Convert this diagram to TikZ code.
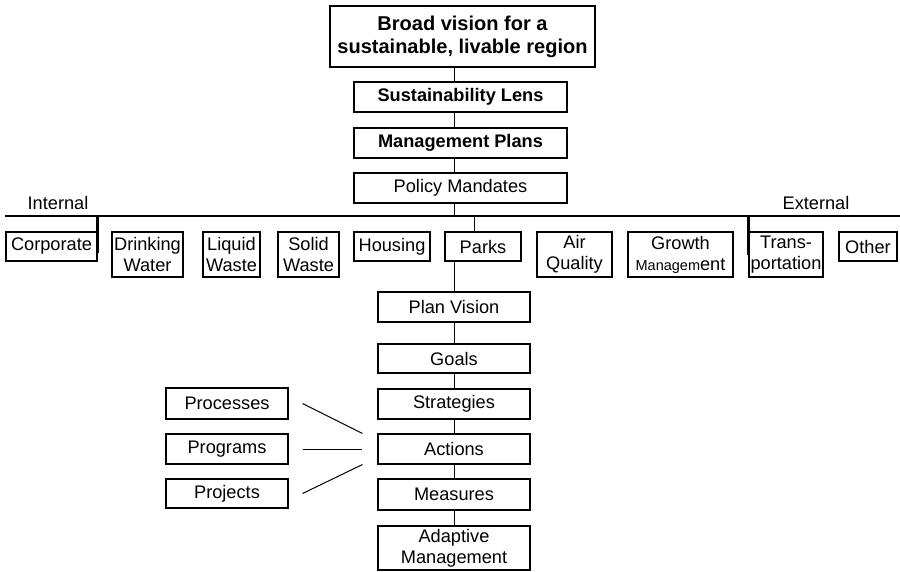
\documentclass[tikz,border=0pt]{standalone}
\usepackage{fontspec}
\setmainfont{Liberation Sans}
\tikzset{
  box/.style={draw, line width=1.1pt, inner sep=0pt, align=center,
    font=\fontsize{18.2}{21}\selectfont},
  head/.style={box, font=\fontsize{18.2}{21}\selectfont\bfseries},
  link/.style={line width=1pt},
  bar/.style={line width=2.6pt},
  side/.style={inner sep=0pt, font=\fontsize{18.2}{21}\selectfont}
}
\begin{document}
\begin{tikzpicture}[x=1pt,y=-1pt]
  \useasboundingbox (0,0) rectangle (900,572);
  % Coordinates
  \coordinate (trunk) at (454,0);
  \coordinate (busL) at (5,216);
  \coordinate (busR) at (900,216);
  \coordinate (parksdrop) at (474,216);
  % Top boxes
  \node[head, font=\fontsize{20}{23}\selectfont\bfseries, minimum width=265pt, minimum height=61pt]
    (vision) at (462.5,36.5) {Broad vision for a\\sustainable, livable region};
  \node[head, minimum width=213pt, minimum height=30pt] (lens) at (460.5,97) {Sustainability Lens};
  \node[head, minimum width=213pt, minimum height=30pt] (plans) at (460.5,143) {Management Plans};
  \node[box, minimum width=213pt, minimum height=30pt] (policy) at (460.5,188) {Policy Mandates};
  % Labels
  \node[side] (internal) at (58,203) {Internal};
  \node[side] (external) at (816,203) {External};
  % Mandate boxes
  \node[box, minimum width=91pt, minimum height=29pt] (corporate) at (51.5,246.5) {Corporate};
  \node[box, minimum width=71pt, minimum height=45pt] (drinking) at (147.5,254.5) {Drinking\\Water};
  \node[box, minimum width=57pt, minimum height=45pt] (liquid) at (231.5,254.5) {Liquid\\Waste};
  \node[box, minimum width=61pt, minimum height=45pt] (solid) at (308.5,254.5) {Solid\\Waste};
  \node[box, minimum width=76pt, minimum height=29pt] (housing) at (392,246.5) {Housing};
  \node[box, minimum width=76pt, minimum height=29pt] (parks) at (483,246.5) {Parks};
  \node[box, minimum width=75pt, minimum height=45pt] (air) at (574.5,254.5) {Air\\Quality};
  \node[box, minimum width=105pt, minimum height=45pt] (growth) at (680.5,254.5)
    {Growth\\{\fontsize{14.5}{21}\selectfont Managem}ent};
  \node[box, minimum width=74pt, minimum height=45pt] (transport) at (786,254.5) {Trans-\\portation};
  \node[box, minimum width=58pt, minimum height=29pt] (other) at (868,246.5) {Other};
  % Plan column
  \node[box, minimum width=152pt, minimum height=30pt] (planvision) at (454,307) {Plan Vision};
  \node[box, minimum width=152pt, minimum height=29pt] (goals) at (454,358.5) {Goals};
  \node[box, minimum width=152pt, minimum height=30pt] (strategies) at (454,404) {Strategies};
  \node[box, minimum width=152pt, minimum height=30pt] (actions) at (454,449) {Actions};
  \node[box, minimum width=152pt, minimum height=31pt] (measures) at (454,494.5) {Measures};
  \node[box, minimum width=152pt, minimum height=44pt] (adaptive) at (454,548) {Adaptive\\Management};
  % Action kinds
  \node[box, minimum width=122pt, minimum height=31pt] (processes) at (227,403.5) {Processes};
  \node[box, minimum width=122pt, minimum height=30pt] (programs) at (227,449) {Programs};
  \node[box, minimum width=122pt, minimum height=29pt] (projects) at (227,493.5) {Projects};

  % draw the lines
  \draw[link] (vision.south -| trunk) -- (lens.north -| trunk);
  \draw[link] (lens.south -| trunk) -- (plans.north -| trunk);
  \draw[link] (plans.south -| trunk) -- (policy.north -| trunk);
  \draw[link] (policy.south -| trunk) -- (trunk |- busL);
  \draw[bar] (busL) -- (busR);
  \draw[bar] (corporate.east |- busL) -- ++(0,37);
  \draw[bar] (transport.west |- busL) -- ++(0,39);
  \draw[link] (parksdrop) -- (parksdrop |- parks.north);
  \draw[link] (planvision.north |- parks.south) -- (planvision.north);
  \foreach \a/\b in {planvision/goals, goals/strategies, strategies/actions,
                     actions/measures, measures/adaptive}
    \draw[link] (\a.south) -- (\b.north);
  \draw[link] ([xshift=14pt]processes.east) -- ([xshift=-15pt]actions.north west);
  \draw[link] ([xshift=14pt]programs.east) -- ([xshift=-15pt]actions.west);
  \draw[link] ([xshift=14pt]projects.east) -- ([xshift=-15pt]actions.south west);
\end{tikzpicture}
\end{document}
